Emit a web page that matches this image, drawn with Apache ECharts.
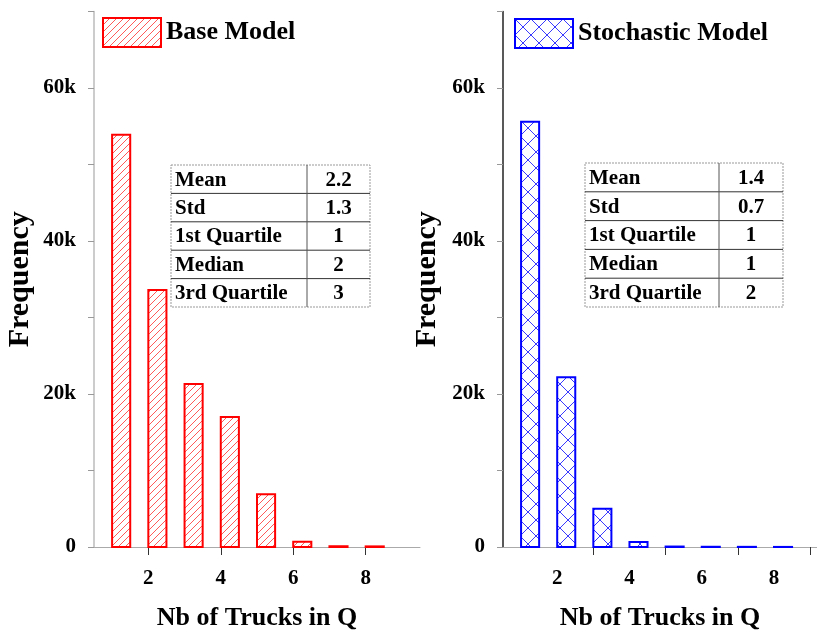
<!DOCTYPE html>
<html>
<head>
<meta charset="utf-8">
<script src="https://cdn.jsdelivr.net/npm/echarts@6/dist/echarts.min.js"></script>
<style>
  html, body { margin: 0; padding: 0; background: #fff; }
  #main { width: 817px; height: 635px; }
</style>
</head>
<body>
<div id="main"></div>
<script>
// number of trucks in queue (bin start), bins are half a unit wide
var trucks = [1, 2, 3, 4, 5, 6, 7, 8];
var binWidth = 0.5;
var baseFreq = [53900, 33600, 21300, 17000, 6900, 700, 100, 80];
var stochFreq = [55600, 22200, 5000, 650, 60, 30, 20, 10];
var xLabels = [2, 4, 6, 8];
var statNames = ['Mean', 'Std', '1st Quartile', 'Median', '3rd Quartile'];
var baseStats = ['2.2', '1.3', '1', '2', '3'];
var stochStats = ['1.4', '0.7', '1', '1', '2'];

var FONT = '"Liberation Serif", "Times New Roman", serif';

function makeHatch(color, cross, size) {
    var c = document.createElement('canvas');
    c.width = size; c.height = size;
    var ctx = c.getContext('2d');
    ctx.fillStyle = '#fff';
    ctx.fillRect(0, 0, size, size);
    ctx.strokeStyle = color;
    ctx.lineWidth = 1;
    ctx.beginPath();
    ctx.moveTo(-1, size + 1); ctx.lineTo(size + 1, -1);
    if (cross) {
        ctx.moveTo(-1, -1); ctx.lineTo(size + 1, size + 1);
    }
    ctx.stroke();
    return c;
}

function pair(xs, ys) {
    return xs.map(function (x, i) { return [x, ys[i]]; });
}

function histItem(params, api) {
    var x = api.value(0), v = api.value(1);
    var p0 = api.coord([x, 0]);
    var p1 = api.coord([x + binWidth, v]);
    return {
        type: 'rect',
        shape: { x: p0[0], y: p1[1], width: p1[0] - p0[0], height: p0[1] - p1[1] },
        style: api.style()
    };
}

function statTable(x, y, w, divX, rowH, values) {
    var children = [];
    var h = rowH * statNames.length;
    children.push({ type: 'rect', shape: { x: x, y: y, width: w, height: h },
        style: { fill: '#fff', stroke: '#999', lineWidth: 1, lineDash: [2, 1] } });
    for (var i = 1; i < statNames.length; i++) {
        children.push({ type: 'line', shape: { x1: x, y1: y + i * rowH, x2: x + w, y2: y + i * rowH },
            style: { stroke: '#333', lineWidth: 1 } });
    }
    children.push({ type: 'line', shape: { x1: divX, y1: y, x2: divX, y2: y + h },
        style: { stroke: '#555', lineWidth: 1 } });
    statNames.forEach(function (name, i) {
        children.push({ type: 'text', x: x + 4, y: y + i * rowH + rowH / 2 + 1,
            style: { text: name, font: 'bold 21px ' + FONT, fill: '#000', verticalAlign: 'middle' } });
        children.push({ type: 'text', x: (divX + x + w) / 2, y: y + i * rowH + rowH / 2 + 1,
            style: { text: values[i], font: 'bold 21px ' + FONT, fill: '#000', align: 'center', verticalAlign: 'middle' } });
    });
    return { type: 'group', children: children };
}

function yAxisCfg(gridIndex, lineColor, gap) {
    return {
        gridIndex: gridIndex, type: 'value', min: 0, max: 70000, interval: 20000,
        name: 'Frequency', nameLocation: 'middle', nameRotate: 90, nameGap: gap,
        nameTextStyle: { fontFamily: FONT, fontWeight: 'bold', fontSize: 30, color: '#000' },
        axisLine: { show: true, lineStyle: { color: lineColor, width: 1.5 } },
        axisTick: { show: true, length: 6, lineStyle: { color: '#999' } },
        minorTick: { show: true, splitNumber: 2, length: 6, lineStyle: { color: '#999' } },
        splitLine: { show: false },
        axisLabel: {
            margin: 18, fontFamily: FONT, fontWeight: 'bold', fontSize: 21, color: '#000',
            showMaxLabel: false,
            formatter: function (v) { return v === 0 ? '0' : (v / 1000) + 'k'; }
        }
    };
}

function xAxisCfg(gridIndex, maxX, tickValues) {
    return {
        gridIndex: gridIndex, type: 'value', min: 0.5, max: maxX,
        name: 'Nb of Trucks in Q', nameLocation: 'middle', nameGap: 58,
        nameTextStyle: { fontFamily: FONT, fontWeight: 'bold', fontSize: 26, color: '#000' },
        axisLine: { show: true, onZero: false, lineStyle: { color: '#aaa', width: 1 } },
        axisTick: { show: true, length: 8, customValues: tickValues, lineStyle: { color: '#333' } },
        splitLine: { show: false },
        axisLabel: {
            margin: 21, fontFamily: FONT, fontWeight: 'bold', fontSize: 21, color: '#000',
            customValues: xLabels
        }
    };
}

var chart = echarts.init(document.getElementById('main'));
var redHatch = makeHatch('#ff5a5a', false, 7);
var blueHatch = makeHatch('#3a3aff', true, 16);

chart.setOption({
    animation: false,
    backgroundColor: '#fff',
    grid: [
        { left: 94, top: 11.5, right: 397, bottom: 88, outerBoundsMode: 'none' },
        { left: 503, top: 11.5, right: 0, bottom: 88, outerBoundsMode: 'none' }
    ],
    legend: [
        { data: ['Base Model'], left: 97, top: 12, icon: 'rect', itemWidth: 58, itemHeight: 29, itemGap: 8,
          textStyle: { fontFamily: FONT, fontWeight: 'bold', fontSize: 26, color: '#000' } },
        { data: ['Stochastic Model'], left: 509, top: 13, icon: 'rect', itemWidth: 58, itemHeight: 29, itemGap: 8,
          textStyle: { fontFamily: FONT, fontWeight: 'bold', fontSize: 26, color: '#000' } }
    ],
    xAxis: [xAxisCfg(0, 9.5, [2, 4, 6, 8]), xAxisCfg(1, 9.19, [3, 5, 7, 9])],
    yAxis: [yAxisCfg(0, '#bbb', 59), yAxisCfg(1, '#222', 61)],
    series: [
        {
            name: 'Base Model', type: 'custom', xAxisIndex: 0, yAxisIndex: 0,
            renderItem: histItem, encode: { x: 0, y: 1 },
            itemStyle: { color: { image: redHatch, repeat: 'repeat' }, borderColor: '#ff0000', borderWidth: 2 },
            data: pair(trucks, baseFreq)
        },
        {
            name: 'Stochastic Model', type: 'custom', xAxisIndex: 1, yAxisIndex: 1,
            renderItem: histItem, encode: { x: 0, y: 1 },
            itemStyle: { color: { image: blueHatch, repeat: 'repeat' }, borderColor: '#0000ff', borderWidth: 2 },
            data: pair(trucks, stochFreq)
        }
    ],
    graphic: [
        statTable(171, 165, 199, 307, 28.4, baseStats),
        statTable(585, 163, 198, 719, 28.8, stochStats)
    ]
});
</script>
</body>
</html>
